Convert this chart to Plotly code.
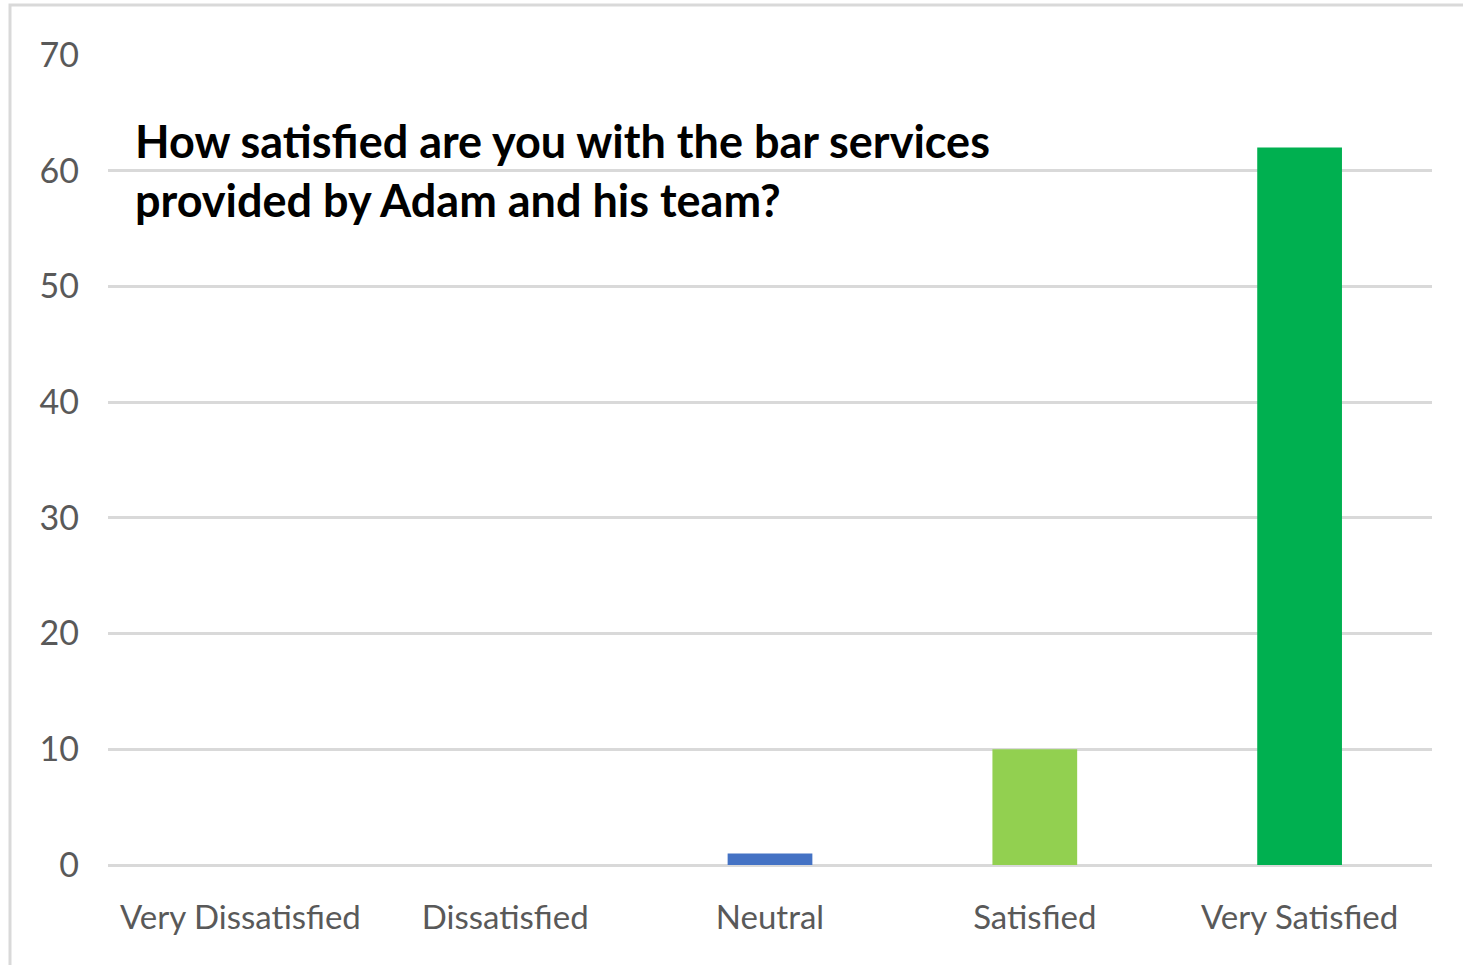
import plotly.graph_objects as go

categories = ["Very Dissatisfied", "Dissatisfied", "Neutral", "Satisfied", "Very Satisfied"]
counts = [0, 0, 1, 10, 62]
bar_colors = ["#4472C4", "#4472C4", "#4472C4", "#92D050", "#00B050"]
y_ticks = [0, 10, 20, 30, 40, 50, 60, 70]
title_lines = ["How satisfied are you with the bar services", "provided by Adam and his team?"]

W, H = 1463, 965
L, R, T, B = 108, 31, 55, 100
PW, PH = W - L - R, H - T - B

fig = go.Figure()
fig.add_trace(go.Bar(x=categories, y=counts, marker=dict(color=bar_colors, line=dict(width=0)),
                     width=0.32, showlegend=False))

fig.update_layout(
    width=W, height=H,
    margin=dict(l=L, r=R, t=T, b=B),
    paper_bgcolor="white", plot_bgcolor="white",
    font=dict(family="Lato", color="#595959"),
    xaxis=dict(showgrid=False, showline=False, zeroline=False, ticks="",
               tickfont=dict(size=33, color="#595959", family="Lato"),
               ticklabelstandoff=30),
    yaxis=dict(range=[0, 70], tickvals=y_ticks, showgrid=True, gridcolor="#D9D9D9", gridwidth=2.5,
               zeroline=True, zerolinecolor="#D9D9D9", zerolinewidth=2.5, showline=False, ticks="",
               tickfont=dict(size=34, color="#595959", family="Lato"),
               ticklabelstandoff=28),
)

fig.add_annotation(xref="paper", yref="paper", x=(133 - L) / PW, y=1 - (112 - T) / PH,
                   xanchor="left", yanchor="top", align="left", showarrow=False,
                   text="<b>" + "<br>".join(title_lines) + "</b>",
                   font=dict(size=45, color="black", family="Lato"))

# outer chart border (cut by right and bottom edges)
fig.add_shape(type="rect", xref="paper", yref="paper",
              x0=(10 - L) / PW, x1=(W + 20 - L) / PW,
              y0=-(B + 20) / PH, y1=1 + (T - 5) / PH,
              line=dict(color="#D9D9D9", width=3), fillcolor="rgba(0,0,0,0)", layer="below")

fig.write_html("out.html", config={"displayModeBar": False},
               post_script="document.body.style.margin='0';")
